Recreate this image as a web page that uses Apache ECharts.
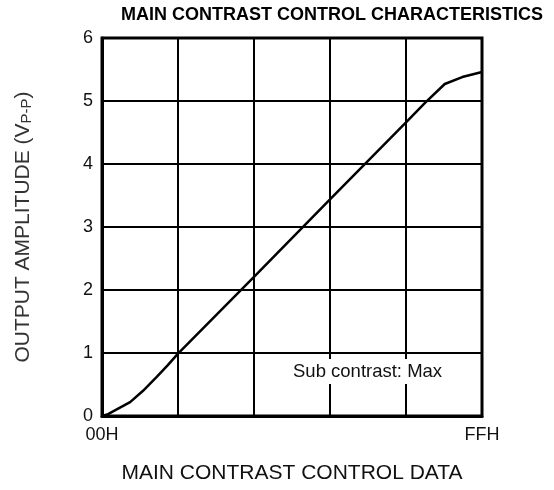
<!DOCTYPE html>
<html>
<head>
<meta charset="utf-8">
<script src="https://cdn.jsdelivr.net/npm/echarts@6/dist/echarts.min.js"></script>
<style>html,body{margin:0;padding:0;background:#fff}#c{width:554px;height:490px}</style>
</head>
<body>
<div id="c"></div>
<script>
// Control data in division units (0..5 divisions == 00H..FFH)
const controlDiv = [0, 0.08, 0.17, 0.37, 0.54, 0.72, 0.86, 1.0, 2.0, 3.0, 4.0, 4.25, 4.51, 4.74, 5.0];
const amplitude  = [0, 0.03, 0.09, 0.22, 0.40, 0.62, 0.80, 0.99, 2.21, 3.44, 4.66, 4.97, 5.27, 5.38, 5.46];
const xTickLabels = {0: '00H', 255: 'FFH'};
const yTicks = [0, 1, 2, 3, 4, 5, 6];
const titleText = 'MAIN CONTRAST CONTROL CHARACTERISTICS';
const xName = 'MAIN CONTRAST CONTROL DATA';
const noteText = 'Sub contrast: Max';

const FONT = '"Liberation Sans", Arial, sans-serif';
const data = controlDiv.map((d, i) => [d * 51, amplitude[i]]);

const chart = echarts.init(document.getElementById('c'), null, {renderer: 'canvas'});
chart.setOption({
  animation: false,
  backgroundColor: '#fff',
  title: {
    text: titleText, left: 116, top: 1,
    textStyle: {fontFamily: FONT, fontSize: 18, fontWeight: 'bold', color: '#000'}
  },
  grid: {left: 102, right: 72, top: 38, bottom: 74, show: true, borderColor: '#000', borderWidth: 3, backgroundColor: 'transparent'},
  xAxis: {
    type: 'value', min: 0, max: 255, interval: 51,
    name: xName, nameLocation: 'middle', nameGap: 47,
    nameTextStyle: {fontFamily: FONT, fontSize: 21, color: '#111'},
    axisLine: {show: true, lineStyle: {color: '#000', width: 3}},
    axisTick: {show: false},
    splitLine: {show: true, lineStyle: {color: '#000', width: 2}},
    axisLabel: {
      margin: 10, fontFamily: FONT, fontSize: 18, color: '#111',
      formatter: v => xTickLabels[v] || ''
    }
  },
  yAxis: {
    type: 'value', min: yTicks[0], max: yTicks[yTicks.length - 1], interval: 1,
    name: '{m|OUTPUT AMPLITUDE (V}{s|P-P}{m|)}', nameLocation: 'middle', nameGap: 68,
    nameTextStyle: {
      fontFamily: FONT, color: '#333',
      rich: {
        m: {fontFamily: FONT, fontSize: 21, color: '#333'},
        s: {fontFamily: FONT, fontSize: 15, color: '#333', verticalAlign: 'bottom', padding: [6, 0, 0, 0]}
      }
    },
    axisLine: {show: true, lineStyle: {color: '#000', width: 3}},
    axisTick: {show: false},
    splitLine: {show: true, lineStyle: {color: '#000', width: 2}},
    axisLabel: {margin: 9, fontFamily: FONT, fontSize: 18, color: '#111'}
  },
  series: [{
    type: 'line', data: data, showSymbol: false, smooth: false,
    lineStyle: {color: '#000', width: 2.5}, z: 5
  }]
});
chart.setOption({
  graphic: [
    {type: 'rect', left: 290, top: 359, z: 100, zlevel: 1, shape: {x: 0, y: 0, width: 182, height: 25}, style: {fill: '#fff'}},
    {type: 'text', left: 293, top: 362, z: 101, zlevel: 1, style: {text: noteText, font: '18.5px ' + FONT, fill: '#111'}}
  ]
});
</script>
</body>
</html>
